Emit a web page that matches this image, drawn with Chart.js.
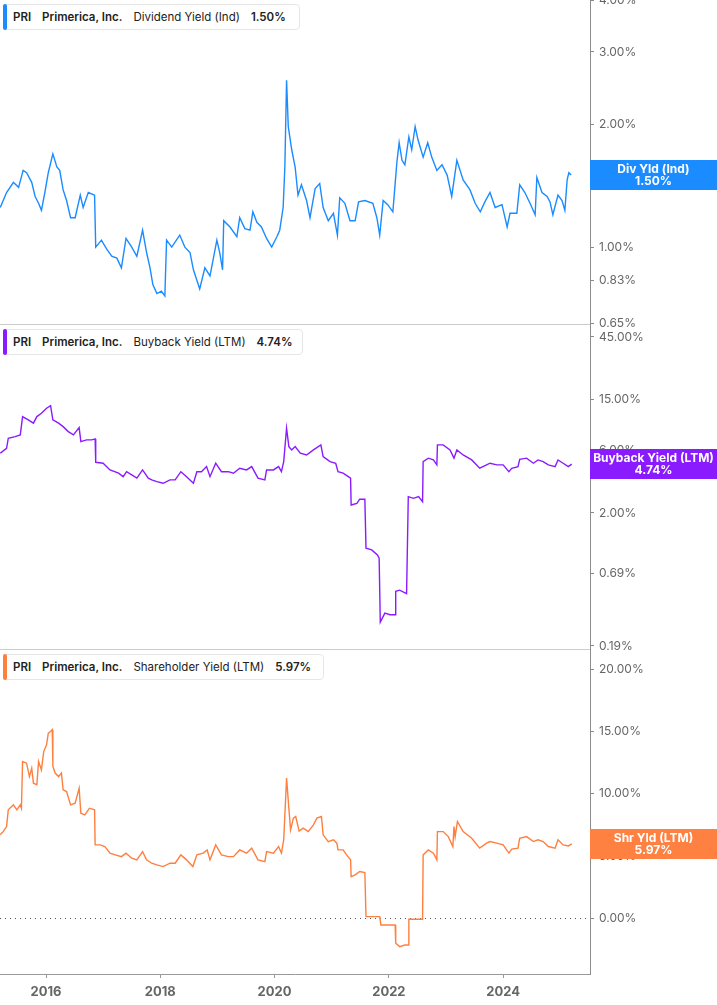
<!DOCTYPE html>
<html>
<head>
<meta charset="utf-8">
<script src="https://cdn.jsdelivr.net/npm/chart.js@4.4.1/dist/chart.umd.min.js"></script>
<style>
    body { margin: 0; background: #fff; font-family: Inter, sans-serif; }
    #wrap { position: relative; width: 717px; height: 1005px; overflow: hidden; }
    canvas { position: absolute; left: 0; }
    .legend {
        position: absolute; left: 3px; height: 26px; box-sizing: border-box; z-index: 5;
        border: 1px solid #e6e6e6; border-radius: 4px; background: #fff;
        display: flex; align-items: center; padding-left: 9px;
        font-size: 11.5px; color: #222; white-space: nowrap;
    }
    .legend .bar { position: absolute; left: -1px; top: -1px; bottom: -1px; width: 4px; border-radius: 3px; }
    .legend span { margin-right: 11px; }
    .legend b { font-weight: 600; margin-right: 11px; }
</style>
</head>
<body>
<div id="wrap">
    <canvas id="div-chart" width="717" height="340" style="top:0"></canvas>
    <canvas id="buyback-chart" width="717" height="340" style="top:325px"></canvas>
    <canvas id="shr-chart" width="717" height="355" style="top:650px"></canvas>

    <div class="legend" style="top:4px;width:297px"><div class="bar" style="background:#1a8cff"></div>
        <b>PRI</b><b>Primerica, Inc.</b><span>Dividend Yield (Ind)</span><b>1.50%</b></div>
    <div class="legend" style="top:329px;width:300px"><div class="bar" style="background:#8a1bff"></div>
        <b>PRI</b><b>Primerica, Inc.</b><span>Buyback Yield (LTM)</span><b>4.74%</b></div>
    <div class="legend" style="top:654px;width:321px"><div class="bar" style="background:#ff7f3f"></div>
        <b>PRI</b><b>Primerica, Inc.</b><span>Shareholder Yield (LTM)</span><b>5.97%</b></div>
</div>

<script>
// x axis range (decimal years) and tick labels
const xMin = 2015.195;
const xMax = 2025.52;
const xTicks = [2016, 2018, 2020, 2022, 2024];

// Dividend Yield (Ind), %
const divDates = [2015.20,2015.31,2015.43,2015.52,2015.60,2015.66,2015.75,2015.81,2015.87,2015.92,
    2015.98,2016.04,2016.12,2016.19,2016.24,2016.30,2016.36,2016.43,2016.51,2016.60,
    2016.65,2016.74,2016.85,2016.87,2016.97,2017.06,2017.15,2017.24,2017.32,2017.40,
    2017.50,2017.59,2017.69,2017.76,2017.82,2017.87,2017.94,2018.02,2018.08,2018.11,
    2018.20,2018.34,2018.43,2018.52,2018.58,2018.64,2018.69,2018.78,2018.87,2018.99,
    2019.04,2019.09,2019.11,2019.22,2019.34,2019.39,2019.48,2019.57,2019.62,2019.69,
    2019.77,2019.86,2019.95,2020.04,2020.09,2020.15,2020.18,2020.21,2020.24,2020.30,
    2020.36,2020.41,2020.47,2020.56,2020.62,2020.71,2020.79,2020.85,2020.94,2021.03,
    2021.10,2021.14,2021.23,2021.32,2021.41,2021.47,2021.58,2021.72,2021.79,2021.84,
    2021.90,2021.98,2022.07,2022.11,2022.14,2022.18,2022.23,2022.28,2022.35,2022.40,
    2022.46,2022.51,2022.60,2022.68,2022.75,2022.84,2022.93,2023.02,2023.10,2023.19,
    2023.30,2023.42,2023.51,2023.60,2023.68,2023.77,2023.86,2023.98,2024.07,2024.12,
    2024.24,2024.29,2024.38,2024.47,2024.56,2024.59,2024.68,2024.77,2024.82,2024.87,
    2024.96,2025.03,2025.08,2025.12,2025.15,2025.19];
const divYield = [1.25,1.36,1.44,1.40,1.54,1.52,1.44,1.33,1.28,1.23,
    1.36,1.52,1.69,1.57,1.54,1.38,1.30,1.18,1.18,1.34,
    1.25,1.36,1.34,1.00,1.04,0.99,0.95,0.94,0.89,1.05,
    1.00,0.95,1.10,0.97,0.89,0.81,0.77,0.78,0.76,1.04,
    1.00,1.07,1.00,0.97,0.88,0.83,0.79,0.89,0.85,1.04,
    0.97,0.88,1.16,1.12,1.06,1.18,1.11,1.10,1.22,1.15,
    1.12,1.05,1.00,1.06,1.10,1.25,1.57,2.56,1.97,1.73,
    1.57,1.34,1.42,1.30,1.18,1.39,1.43,1.25,1.16,1.21,
    1.07,1.32,1.28,1.16,1.16,1.29,1.30,1.28,1.18,1.07,
    1.30,1.27,1.22,1.43,1.61,1.80,1.63,1.59,1.86,1.73,
    1.97,1.83,1.66,1.80,1.66,1.54,1.59,1.50,1.33,1.63,
    1.46,1.38,1.28,1.22,1.29,1.36,1.25,1.27,1.12,1.21,
    1.21,1.42,1.36,1.28,1.20,1.48,1.36,1.33,1.29,1.20,
    1.34,1.30,1.23,1.46,1.52,1.50];
const divTicks = [0.65, 0.83, 1, 2, 3, 4];

// Buyback Yield (LTM), %
const buybackDates = [2015.20,2015.31,2015.34,2015.46,2015.55,2015.59,2015.69,2015.78,2015.84,2015.92,
    2016.01,2016.08,2016.12,2016.22,2016.30,2016.39,2016.48,2016.58,2016.61,2016.71,
    2016.80,2016.86,2016.87,2017.00,2017.12,2017.27,2017.35,2017.41,2017.50,2017.59,
    2017.69,2017.79,2017.85,2017.94,2018.05,2018.17,2018.26,2018.36,2018.46,2018.58,
    2018.64,2018.72,2018.81,2018.87,2018.97,2019.07,2019.19,2019.28,2019.39,2019.51,
    2019.60,2019.71,2019.83,2019.86,2019.98,2020.07,2020.12,2020.16,2020.21,2020.25,
    2020.30,2020.36,2020.45,2020.56,2020.68,2020.81,2020.85,2020.97,2021.07,2021.11,
    2021.20,2021.29,2021.33,2021.34,2021.44,2021.49,2021.58,2021.60,2021.70,2021.80,
    2021.83,2021.85,2021.93,2022.02,2022.11,2022.12,2022.19,2022.31,2022.34,2022.43,
    2022.52,2022.59,2022.60,2022.69,2022.78,2022.84,2022.85,2022.95,2023.07,2023.14,
    2023.19,2023.30,2023.45,2023.59,2023.71,2023.77,2023.89,2024.00,2024.10,2024.15,
    2024.26,2024.29,2024.41,2024.53,2024.61,2024.70,2024.79,2024.91,2024.96,2025.05,
    2025.14,2025.20];
const buybackYield = [5.75,6.28,7.50,7.72,7.95,11.0,10.37,9.79,11.0,11.68,
    12.76,13.36,10.37,9.79,9.21,8.43,7.95,9.05,7.07,7.28,
    7.28,7.41,4.90,4.82,4.28,4.04,3.80,4.15,3.92,3.70,
    4.28,3.70,3.59,3.48,3.38,3.59,3.59,4.15,3.80,3.38,
    4.15,4.15,4.54,3.80,4.82,4.15,4.15,4.04,4.41,4.28,
    4.54,3.70,3.59,4.28,4.28,4.54,4.15,4.96,8.95,6.47,
    6.10,6.47,5.75,5.58,6.10,6.67,5.42,4.96,4.82,4.15,
    4.04,3.80,3.70,2.30,2.37,2.55,2.55,1.07,1.04,0.95,
    0.90,0.29,0.34,0.33,0.33,0.50,0.51,0.48,2.67,2.59,
    2.67,2.44,4.96,5.27,5.11,4.68,6.67,6.67,6.10,5.27,
    6.10,5.58,5.11,4.41,4.68,4.82,4.68,4.68,4.15,4.41,
    4.54,5.17,5.27,4.82,5.11,4.96,4.68,4.54,5.11,4.82,
    4.54,4.74];
const buybackTicks = [0.19, 0.69, 2, 6, 15, 45];

// Shareholder Yield (LTM), %
const shrDates = [2015.20,2015.25,2015.31,2015.34,2015.43,2015.49,2015.55,2015.57,2015.59,2015.66,
    2015.71,2015.75,2015.78,2015.84,2015.87,2015.92,2015.96,2016.01,2016.04,2016.08,
    2016.11,2016.12,2016.16,2016.22,2016.27,2016.30,2016.36,2016.43,2016.51,2016.58,
    2016.61,2016.68,2016.76,2016.85,2016.86,2016.95,2017.03,2017.12,2017.21,2017.32,
    2017.40,2017.50,2017.59,2017.69,2017.76,2017.85,2017.94,2018.05,2018.17,2018.26,
    2018.36,2018.46,2018.57,2018.64,2018.75,2018.82,2018.87,2018.97,2019.07,2019.19,
    2019.28,2019.39,2019.51,2019.60,2019.71,2019.83,2019.86,2019.98,2020.07,2020.12,
    2020.16,2020.21,2020.25,2020.28,2020.33,2020.37,2020.43,2020.50,2020.59,2020.68,
    2020.74,2020.82,2020.85,2020.94,2021.03,2021.09,2021.11,2021.20,2021.26,2021.33,
    2021.34,2021.41,2021.49,2021.58,2021.60,2021.84,2021.86,2022.11,2022.12,2022.19,
    2022.28,2022.34,2022.35,2022.59,2022.60,2022.69,2022.78,2022.84,2022.85,2022.95,
    2023.04,2023.12,2023.14,2023.16,2023.20,2023.30,2023.45,2023.59,2023.71,2023.77,
    2023.89,2024.00,2024.10,2024.15,2024.26,2024.29,2024.41,2024.53,2024.61,2024.70,
    2024.79,2024.91,2024.96,2025.05,2025.14,2025.20];
const shrYield = [6.70,6.96,7.36,8.71,9.11,8.71,9.11,8.84,12.59,12.46,
    11.38,12.06,10.85,10.72,12.59,11.92,13.39,13.93,14.87,15.00,
    15.14,12.19,11.66,11.38,11.66,10.32,10.18,9.11,9.25,10.45,
    8.44,8.31,8.84,8.71,5.89,5.89,5.76,5.23,5.09,4.95,
    5.23,4.82,4.69,5.35,4.69,4.42,4.29,4.15,4.42,4.42,
    5.09,4.69,4.15,5.09,5.23,5.49,4.69,5.89,5.09,4.95,
    4.95,5.49,5.23,5.63,4.69,4.55,5.35,5.23,5.76,5.23,
    6.30,11.26,8.84,7.10,8.04,8.17,7.00,7.24,6.96,7.50,
    8.04,8.17,6.70,6.16,6.30,6.03,5.49,5.49,5.09,4.69,
    3.34,3.48,3.75,3.67,0.13,0.13,-0.54,-0.54,-2.01,-2.28,
    -2.15,-2.15,-0.08,-0.08,5.09,5.49,5.23,4.69,6.96,6.96,
    6.56,5.76,7.36,6.56,7.77,6.96,6.43,5.63,6.03,6.16,
    6.03,5.89,5.23,5.55,5.63,6.43,6.56,6.16,6.30,6.16,
    5.76,5.63,6.30,5.89,5.81,5.97];
const shrTicks = [0, 5, 10, 15, 20];

const toPoints = (xs, ys) => xs.slice(0, ys.length).map((x, i) => ({ x, y: ys[i] }));

// separator line, zero line and value box on the right
const panelDecor = {
    id: 'panelDecor',
    beforeDatasetsDraw(chart, args, opts) {
        if (!opts.zeroLine) return;
        const { ctx, chartArea: a } = chart;
        const y = Math.round(chart.scales.y.getPixelForValue(0)) + 0.5;
        ctx.save();
        ctx.strokeStyle = '#555';
        ctx.lineWidth = 1;
        ctx.setLineDash([1, 4]);
        ctx.beginPath();
        ctx.moveTo(a.left, y);
        ctx.lineTo(a.right, y);
        ctx.stroke();
        ctx.restore();
    },
    afterDraw(chart, args, opts) {
        const { ctx, chartArea: a } = chart;
        ctx.save();
        if (opts.separator) {
            ctx.strokeStyle = '#cccccc';
            ctx.lineWidth = 1;
            ctx.beginPath();
            ctx.moveTo(a.left, a.bottom - 0.5);
            ctx.lineTo(a.right, a.bottom - 0.5);
            ctx.stroke();
        }
        const y = chart.scales.y.getPixelForValue(opts.last);
        ctx.fillStyle = opts.color;
        ctx.fillRect(a.right, Math.round(y - 15), chart.width - a.right, 30);
        ctx.fillStyle = '#fff';
        ctx.font = 'bold 12px Inter, sans-serif';
        ctx.textAlign = 'center';
        ctx.textBaseline = 'middle';
        const cx = (a.right + chart.width) / 2;
        ctx.fillText(opts.label, cx, y - 5.5);
        ctx.fillText(opts.last.toFixed(2) + '%', cx, y + 6);
        ctx.restore();
    }
};

function yScale(type, min, max, ticks) {
    return {
        type, position: 'right', min, max, bounds: 'data',
        border: { display: true, color: '#8c8c8c' },
        grid: { drawOnChartArea: false, tickLength: 4, color: '#8c8c8c' },
        ticks: {
            color: '#666', padding: 5, autoSkip: false,
            font: { family: 'Inter', size: 12 },
            callback: v => Number(v).toFixed(2) + '%',
        },
        afterBuildTicks: s => { s.ticks = ticks.map(v => ({ value: v })); },
        afterDataLimits: s => { s.min = min; s.max = max; },
        afterFit: s => { s.width = 127; s.paddingTop = 0; s.paddingBottom = 0; },
    };
}

function xScale(show) {
    return {
        type: 'linear', min: xMin, max: xMax, display: show,
        border: { display: true, color: '#999' },
        grid: { drawOnChartArea: false, tickLength: 4, color: '#999' },
        ticks: {
            color: '#666', padding: 6, autoSkip: false, maxRotation: 0,
            font: { family: 'Inter', size: 13, weight: 'bold' },
            callback: v => String(v),
        },
        afterBuildTicks: s => { s.ticks = xTicks.map(v => ({ value: v })); },
        afterFit: s => { s.height = show ? 31 : 0; s.paddingLeft = 0; s.paddingRight = 0; },
    };
}

function makeChart(id, points, color, y, decor, bottomPad) {
    return new Chart(document.getElementById(id).getContext('2d'), {
        type: 'line',
        data: {
            datasets: [{
                data: points,
                borderColor: color,
                borderWidth: 1.4,
                pointRadius: 0,
                tension: 0,
                fill: false,
            }],
        },
        options: {
            responsive: false,
            animation: false,
            devicePixelRatio: 1,
            layout: { padding: { top: 0, left: 0, right: 0, bottom: bottomPad } },
            plugins: { legend: { display: false }, tooltip: { enabled: false }, panelDecor: decor },
            scales: { x: xScale(bottomPad === 0), y },
        },
        plugins: [panelDecor],
    });
}

makeChart('div-chart', toPoints(divDates, divYield), '#1a8cff',
    yScale('logarithmic', 0.645, 4.02, divTicks),
    { separator: true, color: '#1a8cff', label: 'Div Yld (Ind)', last: 1.50 }, 15);

makeChart('buyback-chart', toPoints(buybackDates, buybackYield), '#8a1bff',
    yScale('logarithmic', 0.177, 55.6, buybackTicks),
    { separator: true, color: '#8a1bff', label: 'Buyback Yield (LTM)', last: 4.74 }, 15);

makeChart('shr-chart', toPoints(shrDates, shrYield), '#ff7f3f',
    yScale('linear', -4.48, 21.55, shrTicks),
    { zeroLine: true, color: '#ff8142', label: 'Shr Yld (LTM)', last: 5.97 }, 0);
</script>
</body>
</html>
